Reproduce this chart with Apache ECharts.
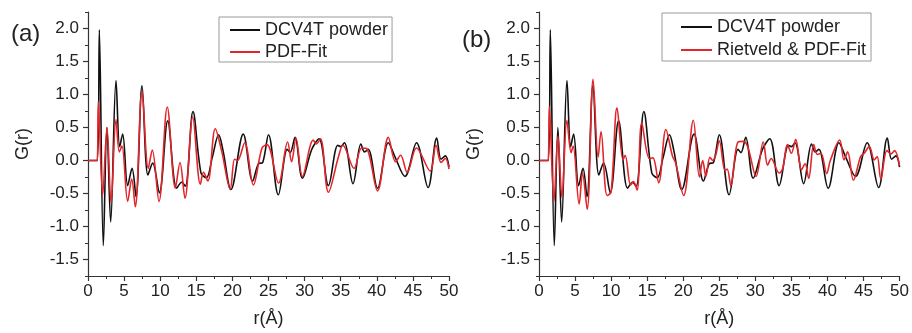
<!DOCTYPE html>
<html>
<head>
<meta charset="utf-8">
<script src="https://cdn.jsdelivr.net/npm/echarts@6/dist/echarts.min.js"></script>
<style>html,body{margin:0;padding:0;background:#fff}#c{width:912px;height:333px}</style>
</head>
<body>
<div id="c"></div>
<script>
// r (Å) ticks
const xTicks = [0, 5, 10, 15, 20, 25, 30, 35, 40, 45, 50];
const yTicks = [-1.5, -1.0, -0.5, 0.0, 0.5, 1.0, 1.5, 2.0];

// DCV4T powder (experimental), same in both panels
const rExp = [0,1.3,1.57,2.12,2.62,3.14,3.88,4.39,4.8,5.5,6.1,6.65,7.48,8.3,8.96,9.88,11.04,12.28,12.97,13.48,14.54,15.65,16.4,17.2,18.1,18.7,19.8,21.5,22.8,23.6,24.2,25.0,26.36,27.6,28.0,28.67,29.7,31.0,32.0,33.3,34.6,35.0,35.5,36.7,37.8,38.3,38.8,40.1,41.6,42.5,43.9,45.5,47.1,48.3,48.9,49.5,50.0];
const gExp = [0,0,1.98,-1.29,0.50,-0.93,1.21,0.21,0.40,-0.38,-0.12,-0.55,1.13,-0.22,-0.04,-0.49,0.60,-0.42,-0.33,-0.39,0.74,-0.19,-0.26,0.04,0.39,0.15,-0.44,0.40,-0.31,-0.05,-0.03,0.39,-0.52,0.17,0.12,0.35,-0.27,0.17,0.33,-0.38,0.23,0.21,0.27,-0.35,0.25,0.13,0.17,-0.42,0.27,0.06,-0.24,0.27,-0.41,0.34,0.02,0.07,-0.10];

// PDF-Fit (panel a)
const rFitA = [0,1.25,1.43,2.03,2.63,3.19,3.88,4.34,4.7,5.5,6.05,6.55,7.48,8.35,8.9,9.83,10.98,12.1,12.74,13.43,14.5,15.56,16.0,16.6,17.63,18.5,19.7,20.3,20.7,21.7,22.9,24.1,24.8,26.4,27.65,28.2,28.8,29.7,31.2,31.6,32.2,33.3,34.7,35.3,36.85,37.9,38.6,40.1,41.6,42.6,43.3,44.2,45.5,47.4,48.2,48.9,49.5,50.0];
const gFitA = [0,0,0.89,-0.52,0.50,-0.64,0.62,0.13,0.22,-0.62,-0.28,-0.70,1.05,-0.12,0.16,-0.62,0.81,-0.42,-0.03,-0.57,0.66,-0.36,-0.18,-0.31,0.48,0.15,-0.43,0.02,0.0,0.27,-0.37,0.19,0.24,-0.34,0.28,-0.02,0.34,-0.24,0.31,0.25,0.33,-0.48,0.06,0.23,-0.12,0.19,0.18,-0.46,0.35,-0.02,0.08,-0.18,0.19,-0.16,0.23,-0.03,0.03,-0.13];

// Rietveld & PDF-Fit (panel b)
const rFitB = [0,1.25,1.43,2.07,2.63,3.18,3.87,4.45,4.73,5.57,6.03,6.68,7.5,8.2,8.6,9.44,10.0,10.82,11.65,11.95,12.7,13.1,13.6,14.25,15.3,15.8,16.6,17.6,18.5,18.95,20.06,21.4,22.25,22.7,23.15,23.7,24.1,24.5,25.0,25.8,26.1,26.6,27.6,28.4,29.0,30.1,31.1,31.7,32.2,33.3,33.8,34.45,35.0,35.6,36.4,36.9,37.4,38.1,38.6,39.1,39.9,40.4,41.7,42.3,42.8,43.6,44.6,45.1,45.8,46.5,46.9,47.4,48.25,48.8,49.3,50.0];
const gFitB = [0,0,0.82,-0.62,0.37,-0.56,0.61,0.12,0.22,-0.66,-0.19,-0.74,1.23,0.05,0.44,-0.53,-0.48,0.80,0.01,0.08,-0.37,-0.32,-0.45,0.57,0.03,0.04,-0.34,0.47,0.07,-0.04,-0.53,0.61,-0.25,0.0,-0.24,0.05,0.0,0.08,0.30,-0.15,-0.13,-0.38,0.28,0.29,0.19,-0.24,0.28,-0.07,0.03,-0.19,-0.12,0.24,0.11,0.32,-0.14,-0.05,-0.27,0.24,0.09,0.11,-0.20,0.0,0.31,0.01,0.13,-0.30,0.06,0.11,0.21,0.01,0.06,-0.28,0.15,0.10,0.15,-0.08];

const zip = (a, b) => a.map((v, i) => [v, b[i]]);

const FONT = 'Liberation Sans, Arial, sans-serif';
const TXT = '#222';
const AX = '#333';

function xAxisCfg(gi) {
  return {
    type: 'value', gridIndex: gi, min: 0, max: 50, interval: 5,
    name: 'r(Å)', nameLocation: 'middle', nameGap: 34,
    nameTextStyle: { fontSize: 18, color: TXT, fontFamily: FONT },
    axisLine: { show: true, onZero: false, lineStyle: { color: AX, width: 1.2 } },
    axisTick: { show: true, inside: false, length: 5, lineStyle: { color: AX, width: 1.2 } },
    minorTick: { show: true, splitNumber: 2, length: 3, lineStyle: { color: AX, width: 1 } },
    axisLabel: { fontSize: 17, color: TXT, fontFamily: FONT, margin: 7 },
    splitLine: { show: false }
  };
}
function yAxisMain(gi) {
  return {
    type: 'value', gridIndex: gi, min: -1.75, max: 2.25, position: 'left',
    name: 'G(r)', nameLocation: 'middle', nameGap: 56, nameRotate: 90,
    nameTextStyle: { fontSize: 18, color: TXT, fontFamily: FONT },
    axisLine: { show: true, onZero: false, lineStyle: { color: AX, width: 1.2 } },
    axisTick: { show: true, inside: false, length: 5, customValues: yTicks, lineStyle: { color: AX, width: 1.2 } },
    axisLabel: { fontSize: 17, color: TXT, fontFamily: FONT, margin: 9, customValues: yTicks,
      formatter: v => v.toFixed(1) },
    splitLine: { show: false }
  };
}
function yAxisMinor(gi) {
  return {
    type: 'value', gridIndex: gi, min: -1.75, max: 2.25, interval: 0.25, position: 'left', offset: 0,
    axisLine: { show: false, onZero: false },
    axisTick: { show: true, inside: false, length: 3, lineStyle: { color: AX, width: 1 } },
    axisLabel: { show: false },
    splitLine: { show: false }
  };
}

const lineBase = { type: 'line', symbol: 'none', smooth: 0.35, animation: false };

const legendBase = {
  orient: 'vertical', icon: 'rect', itemHeight: 2,
  borderColor: '#999', borderWidth: 1,
  textStyle: { fontSize: 18, color: TXT, fontFamily: FONT, lineHeight: 18 }
};

const option = {
  animation: false,
  backgroundColor: '#fff',
  textStyle: { fontFamily: FONT },
  grid: [
    { left: 88, top: 12, width: 361, height: 264 },
    { left: 539, top: 12, width: 363, height: 264 }
  ],
  xAxis: [xAxisCfg(0), xAxisCfg(1)],
  yAxis: [yAxisMain(0), yAxisMinor(0), yAxisMain(1), yAxisMinor(1)],
  legend: [
    Object.assign({}, legendBase, {
      left: 219, top: 17,
      data: ['DCV4T powder', 'PDF-Fit'],
      itemWidth: 30, itemGap: 4,
      padding: [4, 4, 1, 11]
    }),
    Object.assign({}, legendBase, {
      left: 662, top: 13,
      data: ['DCV4T powder', 'Rietveld & PDF-Fit'],
      itemWidth: 31, itemGap: 5,
      padding: [5, 5, 2, 19]
    })
  ],
  graphic: [
    { type: 'text', left: 11, top: 22, style: { text: '(a)', fontSize: 24, fill: TXT, fontFamily: FONT } },
    { type: 'text', left: 462, top: 28, style: { text: '(b)', fontSize: 24, fill: TXT, fontFamily: FONT } }
  ],
  series: [
    Object.assign({}, lineBase, { name: 'DCV4T powder', xAxisIndex: 0, yAxisIndex: 0,
      data: zip(rExp, gExp), lineStyle: { color: '#111', width: 1.6 }, itemStyle: { color: '#111' } }),
    Object.assign({}, lineBase, { name: 'PDF-Fit', xAxisIndex: 0, yAxisIndex: 0,
      data: zip(rFitA, gFitA), lineStyle: { color: '#e3262b', width: 1.6 }, itemStyle: { color: '#e3262b' } }),
    Object.assign({}, lineBase, { name: 'DCV4T powder', xAxisIndex: 1, yAxisIndex: 2,
      data: zip(rExp, gExp), lineStyle: { color: '#111', width: 1.6 }, itemStyle: { color: '#111' } }),
    Object.assign({}, lineBase, { name: 'Rietveld & PDF-Fit', xAxisIndex: 1, yAxisIndex: 2,
      data: zip(rFitB, gFitB), lineStyle: { color: '#e3262b', width: 1.6 }, itemStyle: { color: '#e3262b' } })
  ]
};

const chart = echarts.init(document.getElementById('c'), null, { renderer: 'canvas' });
chart.setOption(option);
</script>
</body>
</html>
